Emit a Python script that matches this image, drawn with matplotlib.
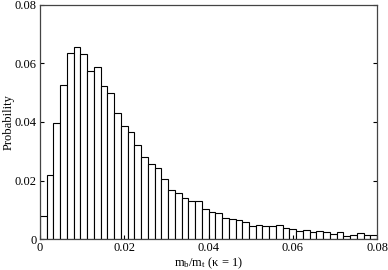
import matplotlib
matplotlib.use("Agg")
import matplotlib.pyplot as plt
import numpy as np

plt.rcParams['font.family'] = ['Liberation Serif', 'DejaVu Serif']
plt.rcParams['mathtext.fontset'] = 'custom'
plt.rcParams['mathtext.rm'] = 'Liberation Serif'
plt.rcParams['mathtext.it'] = 'Liberation Serif:italic'

bin_edges = np.linspace(0, 0.08, 51)
probabilities = [
    0.0080, 0.0218, 0.0395, 0.0525, 0.0636, 0.0655, 0.0631, 0.0574, 0.0586, 0.0522,
    0.0497, 0.0432, 0.0387, 0.0367, 0.0320, 0.0280, 0.0257, 0.0242, 0.0205, 0.0167,
    0.0157, 0.0141, 0.0130, 0.0130, 0.0103, 0.0093, 0.0089, 0.0072, 0.0069, 0.0066,
    0.0058, 0.0045, 0.0048, 0.0045, 0.0045, 0.0048, 0.0038, 0.0034, 0.0028, 0.0031,
    0.0023, 0.0027, 0.0024, 0.0017, 0.0024, 0.0011, 0.0015, 0.0020, 0.0013, 0.0015,
]
tick_values = [0, 0.02, 0.04, 0.06, 0.08]
tick_labels = ["0", "0.02", "0.04", "0.06", "0.08"]

fig = plt.figure(figsize=(3.88, 2.70), dpi=100)
ax = fig.add_axes([0.103, 0.114, 0.869, 0.869])

widths = np.diff(bin_edges)
ax.bar(bin_edges[:-1], probabilities, width=widths, align='edge',
       facecolor='white', edgecolor='black', linewidth=0.8)

ax.set_xlim(0, 0.08)
ax.set_ylim(0, 0.08)
ax.set_xticks(tick_values)
ax.set_xticklabels(tick_labels)
ax.set_yticks(tick_values)
ax.set_yticklabels(tick_labels)
ax.tick_params(direction='in', length=3, width=0.8, labelsize=9, pad=2.2,
               right=True, top=False)
for s in ax.spines.values():
    s.set_linewidth(0.9)
    s.set_color('#444444')

ax.set_xlabel(r'$\mathregular{m_b/m_t}$ (κ = 1)', fontsize=9, labelpad=1)
ax.set_ylabel('Probability', fontsize=9, labelpad=0.5)

fig.savefig('out.png', dpi=100)
